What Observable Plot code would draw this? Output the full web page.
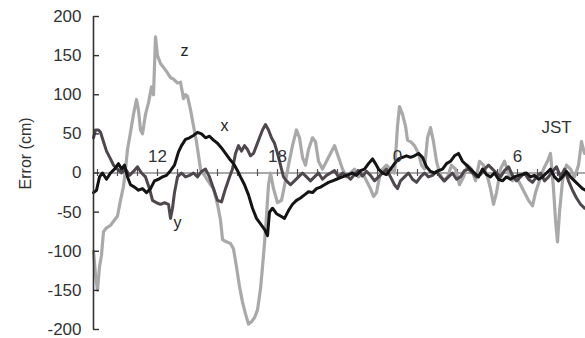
<!DOCTYPE html>
<html>
<head>
<meta charset="utf-8">
<script src="https://cdn.jsdelivr.net/npm/d3@7"></script>
<script src="https://cdn.jsdelivr.net/npm/@observablehq/plot@0.6"></script>
<style>
  html, body { margin: 0; padding: 0; background: #fff; }
  #chart svg { display: block; }
</style>
</head>
<body>
<div id="chart"></div>
<script>
// Positioning error per component, hours of JST (24+ = next day), values in cm.

const zHours = [8.80,8.90,9.00,9.10,9.20,9.30,9.45,9.65,9.85,10.00,10.15,10.30,10.40,10.50,10.65,10.80,10.95,11.05,11.15,11.25,11.40,11.55,11.70,11.80,11.90,12.00,12.15,12.30,12.50,12.65,12.80,13.00,13.15,13.30,13.40,13.50,13.65,13.80,13.95,14.15,14.40,14.65,14.80,15.00,15.15,15.25,15.45,15.65,15.80,15.95,16.10,16.25,16.40,16.55,16.70,16.85,17.00,17.15,17.25,17.35,17.45,17.55,17.65,17.80,18.00,18.20,18.40,18.55,18.75,18.95,19.10,19.25,19.40,19.55,19.75,19.90,20.05,20.25,20.45,20.65,20.85,21.05,21.25,21.45,21.65,21.85,22.05,22.25,22.45,22.65,22.80,22.95,23.10,23.25,23.45,23.65,23.85,24.00,24.10,24.25,24.40,24.50,24.65,24.85,25.05,25.20,25.35,25.50,25.65,25.80,25.95,26.10,26.30,26.50,26.70,26.90,27.10,27.30,27.50,27.70,27.90,28.10,28.30,28.50,28.65,28.80,28.95,29.15,29.35,29.55,29.75,29.95,30.15,30.35,30.55,30.75,30.90,31.10,31.30,31.50,31.65,31.80,31.90,32.00,32.10,32.25,32.45,32.65,32.85,33.05,33.20,33.35];
const zCm = [-100,-130,-150,-120,-105,-75,-70,-67,-60,-55,-35,-17,5,30,52,75,94,80,55,50,75,90,110,100,174,150,140,135,128,122,120,115,116,95,100,98,81,60,40,5,-5,-15,-20,-40,-60,-85,-88,-90,-97,-120,-145,-165,-180,-193,-190,-185,-175,-148,-120,-90,-55,-15,0,-20,-38,-35,-10,10,35,55,45,20,10,30,45,40,15,5,15,25,35,20,5,-5,0,5,-5,0,-10,-20,-30,-25,-5,5,10,5,0,60,85,75,60,42,40,35,25,10,5,45,58,40,15,0,-10,-5,10,5,-15,-5,10,5,-10,15,10,-5,-20,-40,-25,5,15,0,-10,-5,-15,-25,-35,-42,-25,-10,5,15,25,-20,-60,-88,-50,-10,10,5,-5,10,40,25];

const xHours = [8.80,8.95,9.10,9.25,9.45,9.65,9.85,10.05,10.20,10.35,10.50,10.65,10.85,11.05,11.25,11.45,11.65,11.85,12.05,12.25,12.45,12.65,12.85,13.05,13.20,13.40,13.60,13.80,14.00,14.20,14.40,14.60,14.80,15.00,15.20,15.40,15.60,15.80,16.00,16.15,16.35,16.55,16.75,16.95,17.15,17.35,17.50,17.60,17.75,17.95,18.15,18.35,18.55,18.75,18.95,19.15,19.35,19.55,19.75,19.95,20.15,20.35,20.55,20.75,20.95,21.15,21.35,21.55,21.75,21.95,22.15,22.35,22.55,22.75,22.90,23.05,23.25,23.45,23.65,23.85,24.05,24.25,24.45,24.65,24.85,25.05,25.25,25.45,25.65,25.85,26.05,26.25,26.45,26.65,26.85,27.05,27.25,27.45,27.65,27.85,28.05,28.25,28.45,28.65,28.85,29.05,29.25,29.45,29.65,29.85,30.05,30.25,30.45,30.65,30.85,31.05,31.25,31.45,31.65,31.85,32.05,32.25,32.45,32.65,32.85,33.05,33.25,33.40];
const xCm = [-25,-22,-5,0,-8,0,5,12,5,10,-5,-15,-18,-22,-20,-25,-20,-10,-8,-5,-3,3,10,27,35,43,45,48,52,50,45,47,42,38,32,25,18,12,3,-5,-15,-28,-45,-58,-65,-72,-80,-50,-45,-52,-55,-58,-48,-40,-35,-32,-28,-24,-25,-20,-18,-15,-12,-10,-8,-6,-4,-2,0,-3,3,5,12,18,12,5,0,-2,5,12,18,20,22,20,22,25,20,8,2,0,3,5,12,15,22,25,15,10,5,0,-5,5,-2,-5,0,-8,-10,-5,-8,-5,-3,-2,0,-5,-3,-8,-5,0,5,-5,-10,-5,2,-5,-10,-15,-20,-22];

const yHours = [8.80,8.90,9.05,9.15,9.30,9.45,9.65,9.80,10.00,10.20,10.40,10.60,10.80,11.00,11.20,11.40,11.60,11.75,11.95,12.15,12.35,12.55,12.65,12.75,12.85,13.00,13.20,13.40,13.60,13.80,14.00,14.20,14.40,14.60,14.80,15.00,15.20,15.40,15.60,15.75,15.90,16.05,16.20,16.35,16.50,16.65,16.80,16.95,17.10,17.25,17.40,17.55,17.70,17.85,18.00,18.15,18.30,18.45,18.65,18.85,19.05,19.25,19.45,19.65,19.85,20.05,20.25,20.45,20.65,20.85,21.05,21.25,21.45,21.65,21.85,22.05,22.25,22.45,22.65,22.85,23.05,23.25,23.45,23.65,23.85,24.00,24.15,24.35,24.55,24.75,24.95,25.15,25.35,25.55,25.75,25.95,26.15,26.35,26.55,26.75,26.95,27.15,27.35,27.55,27.75,27.95,28.15,28.35,28.55,28.75,28.95,29.15,29.35,29.55,29.75,29.95,30.15,30.35,30.55,30.75,30.95,31.15,31.35,31.55,31.75,31.95,32.15,32.35,32.55,32.75,32.95,33.15,33.35];
const yCm = [45,55,55,52,40,28,18,10,5,0,5,-3,2,8,0,-5,-20,-35,-38,-40,-38,-40,-58,-45,-25,-5,0,-5,-3,0,-5,2,5,-5,-20,-35,-37,-20,-5,5,25,35,28,35,30,22,25,35,45,55,62,55,45,38,25,10,-5,-10,-15,-10,-5,0,-5,-10,-5,0,-8,-3,0,3,-5,0,-3,-8,-2,3,-4,2,-3,-10,-5,0,5,-5,-15,-20,-10,-5,0,-8,-12,-5,0,-5,-3,2,-5,-10,-5,0,-8,-5,3,5,0,-5,-2,5,10,5,0,-5,3,8,-3,-10,-5,0,-8,-12,-5,0,-10,-5,2,8,-5,5,-10,-22,-32,-40,-45];

const errorTicks = [-200, -150, -100, -50, 0, 50, 100, 150, 200];
const clockHours = [12, 18, 24, 30];
const clockLabels = ["12", "18", "0", "6"];
const seriesNames = ["x", "y", "z"];

const rows = (hours, cm) => hours.map((h, i) => ({h, cm: cm[i]}));
const zData = rows(zHours, zCm);
const xData = rows(xHours, xCm);
const yData = rows(yHours, yCm);

const t0 = 8.8, t1 = 33.4;
const hourMarks = d3.range(9, 34);
const font = "'Liberation Sans', Arial, Helvetica, sans-serif";

const chart = Plot.plot({
  width: 585,
  height: 338,
  marginLeft: 93,
  marginRight: 0,
  marginTop: 16,
  marginBottom: 9,
  x: {domain: [t0, t1], axis: null},
  y: {domain: [-200, 200], axis: null},
  style: {fontFamily: font, background: "#fff"},
  marks: [
    // time axis along zero error, with hourly tick marks
    Plot.ruleY([0], {x1: t0, x2: t1, stroke: "#555", strokeWidth: 1.2}),
    Plot.ruleX(hourMarks, {x: d => d, y1: -4.5, y2: 4.5, stroke: "#555", strokeWidth: 1.2}),

    // the three error components
    Plot.line(zData, {x: "h", y: "cm", stroke: "#a9a9a9", strokeWidth: 3.2, strokeLinejoin: "round"}),
    Plot.line(yData, {x: "h", y: "cm", stroke: "#4f474e", strokeWidth: 3, strokeLinejoin: "round"}),
    Plot.line(xData, {x: "h", y: "cm", stroke: "#141414", strokeWidth: 3, strokeLinejoin: "round"}),

    // error axis with inward ticks
    Plot.ruleX([t0], {y1: -200, y2: 200, stroke: "#333", strokeWidth: 1.6}),
    Plot.ruleY(errorTicks, {x1: t0, x2: t0 + 0.3, stroke: "#333", strokeWidth: 1.4}),
    Plot.text(errorTicks, {x: t0, y: d => d, text: d => String(d), dx: -12, textAnchor: "end",
      fontSize: 17, fill: "#333"}),
    Plot.text(["Error (cm)"], {x: t0, y: 25, dx: -68, rotate: -90, fontSize: 16,
      fill: "#333", letterSpacing: "0.8px"}),

    // clock labels above the time axis
    Plot.text(clockHours, {x: d => d, y: 0, dy: -16, text: (d, i) => clockLabels[i],
      fontSize: 17, fill: "#333"}),
    Plot.text(["JST"], {x: 31.95, y: 58, fontSize: 17, fill: "#333"}),

    // component names beside their curves
    Plot.text(seriesNames, {x: [15.35, 13.0, 13.35], y: [60, -64, 156], text: d => d,
      fontSize: 16, fill: "#222"})
  ]
});

document.getElementById("chart").appendChild(chart);
</script>
</body>
</html>
